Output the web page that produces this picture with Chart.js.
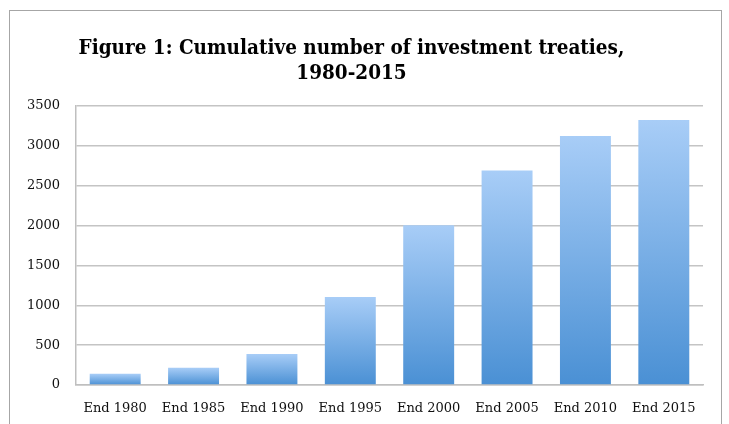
<!DOCTYPE html>
<html>
<head>
<meta charset="utf-8">
<script src="https://cdn.jsdelivr.net/npm/chart.js@4.4.0/dist/chart.umd.min.js"></script>
<style>
  html, body { margin: 0; padding: 0; background: #fff; }
  #wrap { position: relative; width: 729px; height: 424px; overflow: hidden; }
  #frame { position: absolute; left: 9px; top: 10px; width: 713px; height: 440px; border: 1px solid #a6a6a6; box-sizing: border-box; }
  canvas { position: absolute; left: 0; top: 0; }
</style>
</head>
<body>
<div id="wrap">
  <div id="frame"></div>
  <canvas id="chart" width="729" height="424"></canvas>
</div>
<script>
const labels = ['End 1980', 'End 1985', 'End 1990', 'End 1995', 'End 2000', 'End 2005', 'End 2010', 'End 2015'];
const treaties = [140, 215, 390, 1105, 2005, 2690, 3125, 3325];
const titleLines = ['Figure 1: Cumulative number of investment treaties,', '1980-2015'];

// per-bar vertical gradient, light at the top, darker at the base
function barFill(ctx) {
  const chart = ctx.chart;
  if (!chart.chartArea || ctx.type !== 'data') return '#6aa6e4';
  const y = chart.scales.y;
  const top = y.getPixelForValue(ctx.raw);
  const base = y.getPixelForValue(0);
  const g = chart.ctx.createLinearGradient(0, top, 0, base);
  g.addColorStop(0, '#a8cdf7');
  g.addColorStop(1, '#4a90d4');
  return g;
}

const serif = 'DejaVu Serif';

new Chart(document.getElementById('chart').getContext('2d'), {
  type: 'bar',
  data: {
    labels: labels,
    datasets: [{
      data: treaties,
      backgroundColor: barFill,
      borderWidth: 0,
      categoryPercentage: 0.65,
      barPercentage: 1
    }]
  },
  options: {
    responsive: false,
    animation: false,
    layout: { padding: { left: 0, right: 26, top: 0, bottom: 0 } },
    plugins: {
      legend: { display: false },
      tooltip: { enabled: false },
      title: {
        display: true,
        text: titleLines,
        color: '#000',
        font: { family: 'DejaVu Serif Condensed', weight: 'bold', size: 20.5, lineHeight: 1.22 },
        padding: { top: 36, bottom: 20 }
      }
    },
    scales: {
      x: {
        grid: { display: false, drawTicks: false },
        border: { color: '#bfbfbf', width: 1.5 },
        ticks: { color: '#111', font: { family: serif, size: 13 }, padding: 16, maxRotation: 0 },
        afterFit: s => { s.height = 39; }
      },
      y: {
        min: 0,
        max: 3500,
        ticks: { stepSize: 500, color: '#111', font: { family: serif, size: 13 }, padding: 16, callback: v => String(v) },
        grid: { color: '#c4c4c4', lineWidth: 1.5, drawTicks: false },
        border: { color: '#bfbfbf', width: 1.5 },
        afterFit: s => { s.width = 76; }
      }
    }
  }
});
</script>
</body>
</html>
